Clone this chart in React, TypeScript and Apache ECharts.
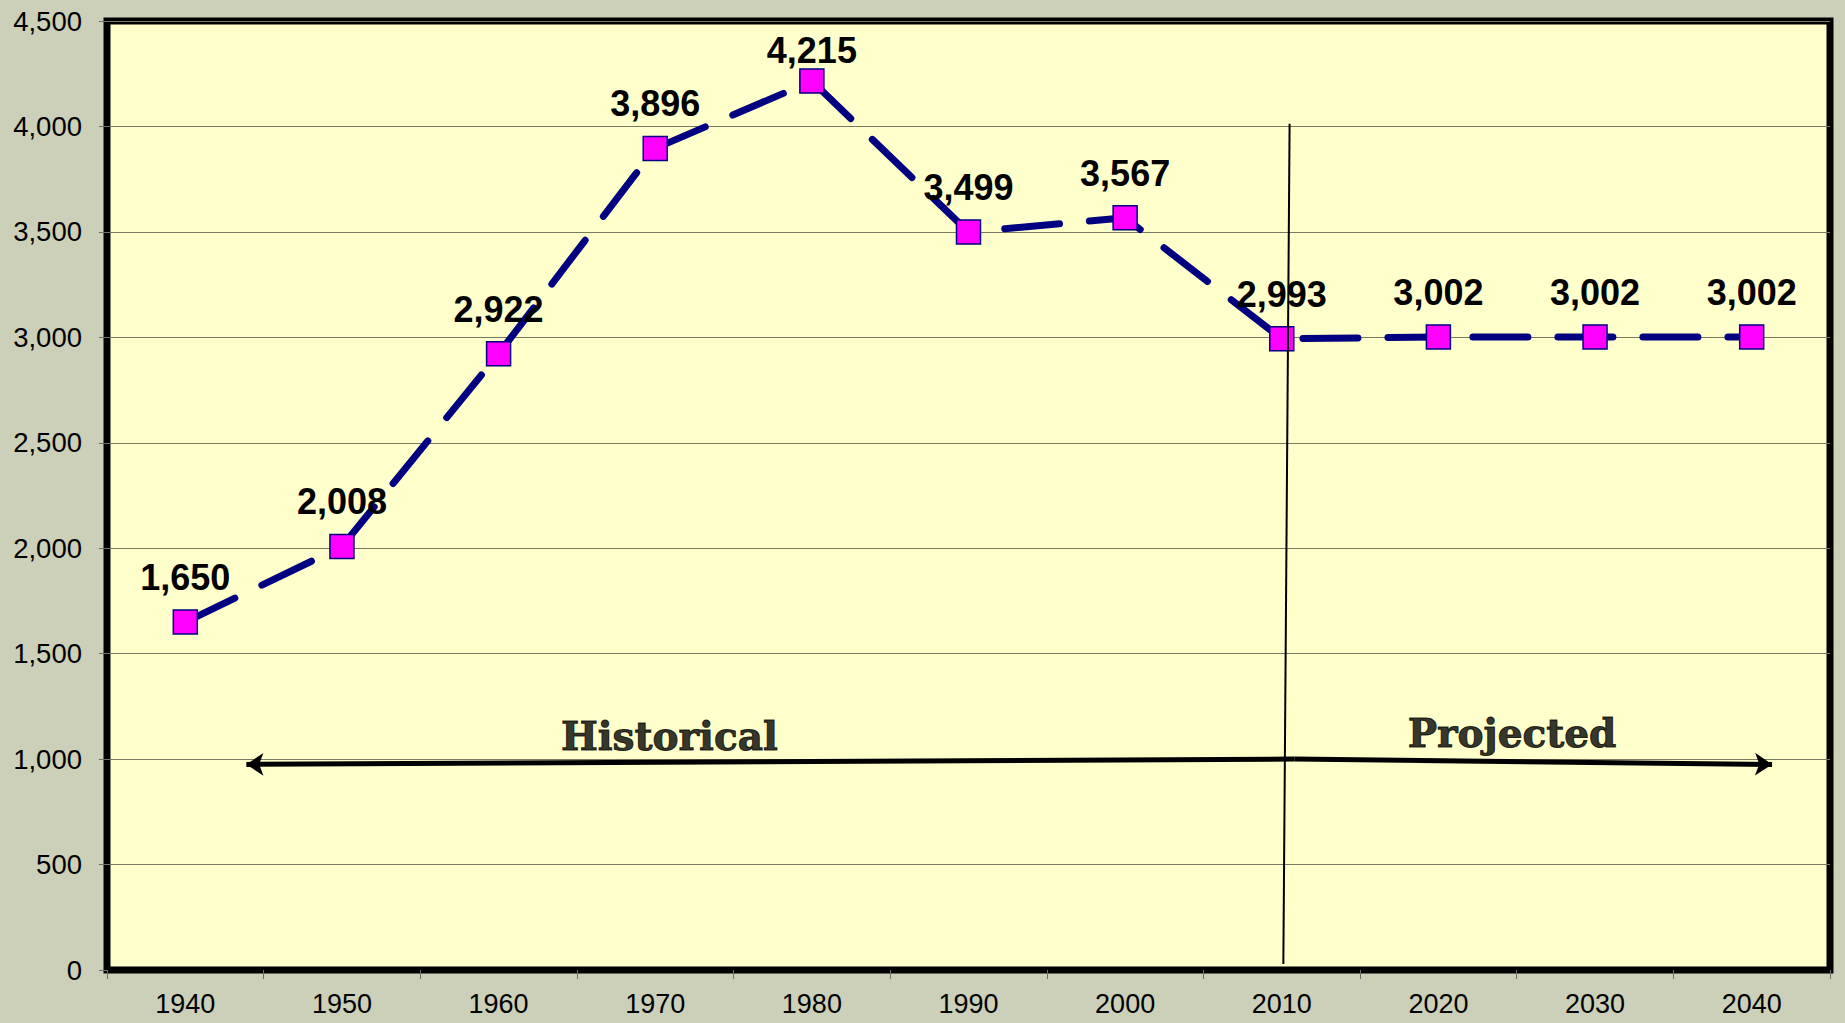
import React, { useEffect, useRef } from "react";
import * as echarts from "echarts";

const years = ["1940", "1950", "1960", "1970", "1980", "1990", "2000", "2010", "2020", "2030", "2040"];
const population = [1650, 2008, 2922, 3896, 4215, 3499, 3567, 2993, 3002, 3002, 3002];

// annotation positions in (year, value) space on a hidden value x-axis
const yearAxisMin = 1935;
const yearAxisMax = 2045;
const historicalArrow = [[1943.9, 975], [2010.8, 1000]];
const projectedArrow = [[2010.8, 1000], [2041.3, 975]];
const dividerLine = [[2010.5, 4013], [2010.1, 28]];
const periodLabels = [
  { name: "Historical", value: [1970.9, 1018] },
  { name: "Projected", value: [2024.7, 1033] },
];

const fmt = (v: number) => v.toLocaleString("en-US");

export default function App() {
  const ref = useRef<HTMLDivElement>(null);
  useEffect(() => {
    const chart = echarts.init(ref.current!, null, { renderer: "svg" });
    const peak = Math.max(...population);
    chart.setOption({
      animation: false,
      backgroundColor: "#CCD0B9",
      grid: {
        left: 107,
        right: 15,
        top: 21,
        bottom: 53,
        show: true,
        backgroundColor: "#FFFFCC",
        borderColor: "#000000",
        borderWidth: 7,
      },
      xAxis: [
        {
          type: "category",
          data: years,
          boundaryGap: true,
          axisLine: { show: true, lineStyle: { color: "#000", width: 1 } },
          axisTick: { show: true, length: 9, interval: 0, lineStyle: { color: "#707070" } },
          axisLabel: {
            color: "#000",
            fontSize: 27,
            fontFamily: "Liberation Sans",
            margin: 20,
            interval: 0,
          },
        },
        { type: "value", min: yearAxisMin, max: yearAxisMax, show: false },
      ],
      yAxis: {
        type: "value",
        min: 0,
        max: 4500,
        interval: 500,
        axisLine: { show: false },
        axisTick: { show: true, length: 8, lineStyle: { color: "#707070" } },
        splitLine: { show: true, lineStyle: { color: "#7a7a62", width: 1 } },
        axisLabel: {
          color: "#000",
          fontSize: 27.5,
          fontFamily: "Liberation Sans",
          margin: 25,
          formatter: (v: number) => fmt(v),
        },
      },
      series: [
        {
          type: "line",
          data: population.map((v) =>
            v === peak ? { value: v, label: { distance: 0 } } : v
          ),
          z: 3,
          symbol: "rect",
          symbolSize: 24,
          itemStyle: { color: "#FF00FF", borderColor: "#000080", borderWidth: 1.5 },
          lineStyle: { color: "#000080", width: 7, type: [55, 30], cap: "round" },
          label: {
            show: true,
            position: "top",
            distance: 14,
            fontSize: 36,
            fontWeight: "bold",
            fontFamily: "Liberation Sans",
            color: "#000",
            formatter: (p: any) => fmt(p.value),
          },
        },
        {
          type: "lines",
          coordinateSystem: "cartesian2d",
          xAxisIndex: 1,
          yAxisIndex: 0,
          z: 6,
          symbol: ["arrow", "none"],
          symbolSize: 17,
          lineStyle: { color: "#000", width: 5, opacity: 1, curveness: 0 },
          data: [{ coords: historicalArrow }],
        },
        {
          type: "lines",
          coordinateSystem: "cartesian2d",
          xAxisIndex: 1,
          yAxisIndex: 0,
          z: 6,
          symbol: ["none", "arrow"],
          symbolSize: 17,
          lineStyle: { color: "#000", width: 5, opacity: 1, curveness: 0 },
          data: [{ coords: projectedArrow }],
        },
        {
          type: "lines",
          coordinateSystem: "cartesian2d",
          xAxisIndex: 1,
          yAxisIndex: 0,
          z: 7,
          symbol: ["none", "none"],
          lineStyle: { color: "#000", width: 2, opacity: 1, curveness: 0 },
          data: [{ coords: dividerLine }],
        },
        {
          type: "scatter",
          xAxisIndex: 1,
          yAxisIndex: 0,
          z: 6,
          symbolSize: 0,
          silent: true,
          data: periodLabels,
          label: {
            show: true,
            position: [0, 0],
            align: "center",
            verticalAlign: "bottom",
            fontSize: 39,
            fontWeight: "bold",
            fontFamily: "DejaVu Serif",
            color: "#000",
            textBorderColor: "#000",
            textBorderWidth: 1,
            formatter: (p: any) => p.name,
          },
        },
      ],
    });
    return () => chart.dispose();
  }, []);
  return (
    <div
      ref={ref}
      style={{ position: "absolute", left: 0, top: 0, width: 1845, height: 1023 }}
    />
  );
}
